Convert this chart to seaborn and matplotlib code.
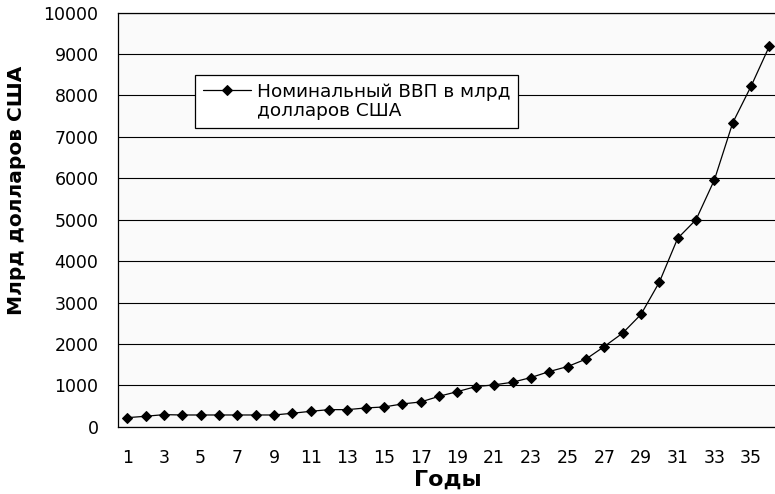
import matplotlib
matplotlib.use("Agg")
import matplotlib.pyplot as plt
from matplotlib.legend_handler import HandlerLine2D
import seaborn as sns
import pandas as pd
import numpy as np

years = list(range(1, 37))
gdp = [218, 252, 291, 283, 283, 283, 283, 283, 283, 324, 372, 412, 412, 453, 477,
       550, 598, 735, 848, 969, 1010, 1074, 1187, 1332, 1453, 1632, 1937, 2260,
       2712, 3490, 4550, 5000, 5960, 7340, 8225, 9195]
series_name = "Номинальный ВВП в млрд\nдолларов США"
x_title = "Годы"
y_title = "Млрд долларов США"
y_ticks = [0, 1000, 2000, 3000, 4000, 5000, 6000, 7000, 8000, 9000, 10000]
x_labels = list(range(1, 37, 2))

df = pd.DataFrame({"year": years, "gdp": gdp, "series": series_name})

sns.set_style("white")
plt.rcParams['font.family'] = ['DejaVu Sans']
plt.rcParams.update({"text.color": "black", "axes.labelcolor": "black",
                     "xtick.color": "black", "ytick.color": "black"})

W, H = 775, 494
fig = plt.figure(figsize=(W / 100, H / 100), dpi=100)
left, right_px, top, bottom = 118, 778.6, 12.7, 426.7
ax = fig.add_axes([left / W, (H - bottom) / H, (right_px - left) / W, (bottom - top) / H])
ax.set_facecolor("#fafafa")

sns.lineplot(data=df, x="year", y="gdp", hue="series", palette=["black"],
             marker="D", markersize=5.5, markeredgecolor="black", linewidth=0.9,
             ax=ax, zorder=3)

ax.set_xlim(0.5, 36.5)
ax.set_ylim(0, 10000)
ax.set_yticks(y_ticks)
ax.set_yticklabels([str(v) for v in y_ticks], fontsize=12.5, color="black")
ax.set_xticks(x_labels)
ax.set_xticklabels([str(v) for v in x_labels], fontsize=12.5, color="black")
ax.set_xticks(np.arange(0.5, 37, 1), minor=True)
ax.tick_params(axis="x", which="major", length=0, pad=16, labelcolor="black")
ax.tick_params(axis="x", which="minor", length=5, width=0.9, color="black", direction="out")
ax.tick_params(axis="y", length=0, pad=14, labelcolor="black")
ax.grid(axis="y", color="black", linewidth=0.8)
for s in ["left", "bottom", "top"]:
    ax.spines[s].set_color("black")
    ax.spines[s].set_linewidth(0.9)
ax.spines["right"].set_visible(False)

ax.set_xlabel(x_title, fontsize=16, fontweight="bold", color="black")
ax.set_ylabel(y_title, fontsize=14.5, fontweight="bold", color="black")
ax.xaxis.set_label_coords(0.5, -0.105)
ax.yaxis.set_label_coords((26 - left) / (right_px - left), (bottom - 190) / (bottom - top))


class UpHandler(HandlerLine2D):
    def __init__(self, dy, **kw):
        super().__init__(**kw)
        self.dy = dy

    def create_artists(self, legend, orig_handle, xdescent, ydescent, width, height,
                       fontsize, trans):
        arts = super().create_artists(legend, orig_handle, xdescent, ydescent, width,
                                      height, fontsize, trans)
        for a in arts:
            a.set_ydata(np.asarray(a.get_ydata()) + self.dy)
        return arts


handles, labels = ax.get_legend_handles_labels()
leg_fs = 13.3
leg_ls = 1.12
leg = ax.legend(handles, labels, loc="upper left", bbox_to_anchor=(195 / W, 1 - 75 / H),
                bbox_transform=fig.transFigure, frameon=True, fancybox=False,
                edgecolor="black", framealpha=1, facecolor="white", fontsize=leg_fs,
                handlelength=2.6, handletextpad=0.33, borderpad=0.42, borderaxespad=0,
                labelcolor="black",
                handler_map={handles[0]: UpHandler(dy=leg_fs * 1.17 * leg_ls / 2)})
for t in leg.get_texts():
    t.set_linespacing(leg_ls)
leg.get_frame().set_linewidth(0.9)

fig.savefig("out.png", dpi=100)
